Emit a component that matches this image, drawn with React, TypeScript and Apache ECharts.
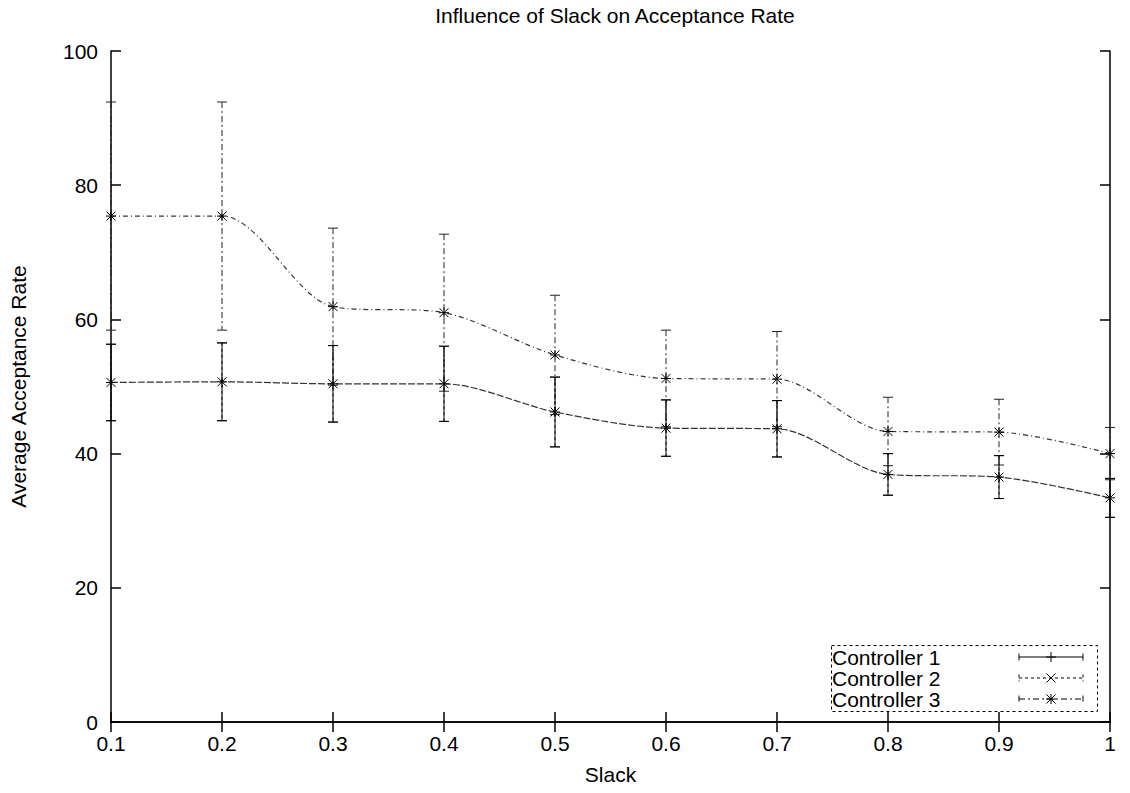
import React, { useEffect, useRef } from 'react';
import * as echarts from 'echarts';

const slack = [0.1, 0.2, 0.3, 0.4, 0.5, 0.6, 0.7, 0.8, 0.9, 1.0];
const c1Mean = [50.6, 50.7, 50.4, 50.4, 46.2, 43.8, 43.7, 36.9, 36.5, 33.4];
const c1Err = [5.7, 5.8, 5.7, 5.6, 5.2, 4.2, 4.2, 3.1, 3.2, 2.9];
const c2Mean = [50.6, 50.7, 50.4, 50.4, 46.2, 43.8, 43.7, 36.9, 36.5, 33.4];
const c2Err = [5.7, 5.8, 5.7, 5.6, 5.2, 4.2, 4.2, 3.1, 3.2, 2.9];
const c3Mean = [75.4, 75.4, 61.9, 61.0, 54.7, 51.2, 51.1, 43.3, 43.2, 40.0];
const c3Err = [17.0, 17.0, 11.7, 11.7, 8.9, 7.2, 7.1, 5.1, 4.9, 3.9];
const seriesNames = ['Controller 1', 'Controller 2', 'Controller 3'];

const FONT = '"Liberation Sans", Arial, sans-serif';
const FS = 21;

type Mark = 'plus' | 'cross' | 'star';

function markLines(cx: number, cy: number, mark: Mark, stroke: string) {
  const st = { stroke, lineWidth: 1 };
  const out: any[] = [];
  if (mark === 'plus' || mark === 'star') {
    out.push({ type: 'line', shape: { x1: cx - 5, y1: cy, x2: cx + 5, y2: cy }, style: st });
    out.push({ type: 'line', shape: { x1: cx, y1: cy - 5, x2: cx, y2: cy + 5 }, style: st });
  }
  if (mark === 'cross' || mark === 'star') {
    out.push({ type: 'line', shape: { x1: cx - 4.5, y1: cy - 4.5, x2: cx + 4.5, y2: cy + 4.5 }, style: st });
    out.push({ type: 'line', shape: { x1: cx - 4.5, y1: cy + 4.5, x2: cx + 4.5, y2: cy - 4.5 }, style: st });
  }
  return out;
}

function errSeries(name: string, mean: number[], err: number[], mark: Mark, dash: number[] | null, color: string, z: number) {
  return {
    name,
    type: 'custom',
    z,
    clip: false,
    data: slack.map((x, i) => [x, mean[i], err[i]]),
    encode: { x: 0, y: 1 },
    renderItem: (params: any, api: any) => {
      const x = api.value(0);
      const m = api.value(1);
      const e = api.value(2);
      const top = api.coord([x, m + e]);
      const bot = api.coord([x, m - e]);
      const c = api.coord([x, m]);
      const st: any = { stroke: color, lineWidth: 1 };
      if (dash) st.lineDash = dash;
      const cap = 5;
      return {
        type: 'group',
        children: [
          { type: 'line', shape: { x1: top[0], y1: top[1], x2: bot[0], y2: bot[1] }, style: st },
          { type: 'line', shape: { x1: top[0] - cap, y1: top[1], x2: top[0] + cap, y2: top[1] }, style: { stroke: color, lineWidth: 1 } },
          { type: 'line', shape: { x1: bot[0] - cap, y1: bot[1], x2: bot[0] + cap, y2: bot[1] }, style: { stroke: color, lineWidth: 1 } },
          ...markLines(c[0], c[1], mark, '#000'),
        ],
      };
    },
  };
}

function legendRow(y: number, label: string, mark: Mark, dash: number[] | null) {
  const x1 = 1019, x2 = 1083, cx = 1051;
  const st: any = { stroke: '#000', lineWidth: 1 };
  if (dash) st.lineDash = dash;
  return [
    { type: 'text', x: 832, y, style: { text: label, font: `${FS}px ${FONT}`, fill: '#000', textAlign: 'left', textVerticalAlign: 'middle', verticalAlign: 'middle' } },
    { type: 'line', shape: { x1, y1: y, x2, y2: y }, style: st },
    { type: 'line', shape: { x1, y1: y - 3.5, x2: x1, y2: y + 3.5 }, style: st },
    { type: 'line', shape: { x1: x2, y1: y - 3.5, x2, y2: y + 3.5 }, style: st },
    ...markLines(cx, y, mark, '#000'),
  ];
}

export default function App() {
  const ref = useRef<HTMLDivElement>(null);
  useEffect(() => {
    if (!ref.current) return;
    const chart = echarts.init(ref.current, null, { renderer: 'svg' });
    const axisLine = { show: true, lineStyle: { color: '#000', width: 1.5 } };
    const axisTick = { show: true, inside: true, length: 10, lineStyle: { color: '#000', width: 1.5 } };
    const labelStyle = { fontSize: FS, color: '#000', fontFamily: FONT };
    chart.setOption({
      animation: false,
      backgroundColor: '#fff',
      title: {
        text: 'Influence of Slack on Acceptance Rate',
        left: 610,
        textAlign: 'center',
        top: 0,
        textStyle: { fontSize: FS, fontWeight: 'normal', color: '#000', fontFamily: FONT },
      },
      grid: { left: 111, top: 51, width: 999, height: 671, containLabel: false, outerBoundsMode: 'none' },
      xAxis: [
        {
          type: 'value', position: 'bottom', min: 0.1, max: 1, interval: 0.1,
          axisLine, axisTick, splitLine: { show: false },
          axisLabel: { ...labelStyle, margin: 11, showMinLabel: true, showMaxLabel: true },
          name: 'Slack', nameLocation: 'middle', nameGap: 42,
          nameTextStyle: labelStyle,
        },
        {
          type: 'value', position: 'top', min: 0.1, max: 1, interval: 0.1,
          axisLine, axisTick, splitLine: { show: false }, axisLabel: { show: false },
        },
      ],
      yAxis: [
        {
          type: 'value', position: 'left', min: 0, max: 100, interval: 20,
          axisLine, axisTick, splitLine: { show: false },
          axisLabel: { ...labelStyle, margin: 13 },
          name: 'Average Acceptance Rate', nameLocation: 'middle', nameGap: 82,
          nameTextStyle: labelStyle,
        },
        {
          type: 'value', position: 'right', min: 0, max: 100, interval: 20,
          axisLine, axisTick, splitLine: { show: false }, axisLabel: { show: false },
        },
      ],
      series: [
        {
          name: 'Controller 2 trend', type: 'line', smooth: 0.3, symbol: 'none', z: 2,
          data: slack.map((x, i) => [x, c2Mean[i]]),
          lineStyle: { color: '#333', width: 1.2, type: [7, 2] },
        },
        {
          name: 'Controller 3 trend', type: 'line', smooth: 0.3, symbol: 'none', z: 2,
          data: slack.map((x, i) => [x, c3Mean[i]]),
          lineStyle: { color: '#333', width: 1.2, type: [5, 3, 1, 3] },
        },
        errSeries(seriesNames[2], c3Mean, c3Err, 'star', [6, 3, 2, 3], '#222', 3),
        errSeries(seriesNames[1], c2Mean, c2Err, 'cross', [3, 3], '#222', 4),
        errSeries(seriesNames[0], c1Mean, c1Err, 'plus', null, '#000', 5),
      ],
      graphic: [
        {
          type: 'rect', shape: { x: 831.5, y: 645.5, width: 266, height: 66 },
          style: { fill: 'none', stroke: '#000', lineWidth: 1, lineDash: [3, 3] },
        },
        ...legendRow(657, seriesNames[0], 'plus', null),
        ...legendRow(678, seriesNames[1], 'cross', [3, 3]),
        ...legendRow(699, seriesNames[2], 'star', [6, 3, 2, 3]),
      ],
    });
    return () => chart.dispose();
  }, []);
  return <div ref={ref} style={{ position: 'absolute', left: 0, top: 0, width: 1130, height: 793 }} />;
}
